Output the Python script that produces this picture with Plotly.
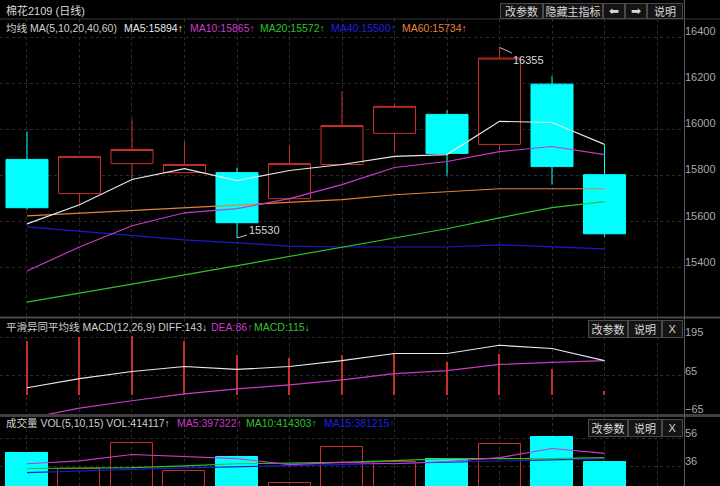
import plotly.graph_objects as go

# ---------------- data ----------------
idx = list(range(12))
opens  = [15870, 15722, 15852, 15813, 15813, 15700, 15848, 15983, 16065, 15935, 16196, 15804]
highs  = [15990, 15883, 16048, 15948, 15835, 15930, 16165, 16113, 16083, 16355, 16230, 15935]
lows   = [15652, 15678, 15783, 15810, 15530, 15690, 15845, 15900, 15800, 15909, 15761, 15535]
closes = [15661, 15883, 15913, 15848, 15596, 15852, 16017, 16100, 15896, 16309, 15839, 15548]

ma5  = [15591, 15674, 15783, 15830, 15778, 15822, 15848, 15883, 15891, 16035, 16030, 15935]
ma10 = [15387, 15491, 15583, 15639, 15657, 15700, 15761, 15835, 15861, 15904, 15926, 15891]
ma20 = [15252, 15290, 15330, 15370, 15410, 15452, 15491, 15530, 15570, 15617, 15661, 15687]
ma40 = [15578, 15560, 15540, 15522, 15509, 15495, 15491, 15491, 15491, 15500, 15491, 15483]
ma60 = [15626, 15638, 15650, 15662, 15675, 15687, 15696, 15717, 15730, 15743, 15743, 15743]

diff = [24, 55, 79, 96, 86, 96, 116, 140, 140, 168, 157, 116]
dea  = [-80, -45, -20, 3, 20, 34, 51, 72, 82, 103, 110, 116]
macd = [182, 197, 200, 182, 134, 126, 134, 143, 111, 137, 86, 12]

vol   = [46, 34, 53, 32.5, 43, 24, 50, 39.6, 41.7, 52.4, 57.4, 39.5]
vma5  = [38, 40, 44.6, 43, 41.7, 37.4, 39, 38, 39.6, 42.4, 48.9, 45.4]
vma10 = [34.6, 35, 35.3, 36.5, 38, 38.5, 39, 40.3, 41.7, 41.7, 41.7, 42.4]
vma15 = [31.7, 33, 34, 35, 36, 36.7, 37.4, 38.2, 39, 40, 41, 41.7]

main_ticks = [15400, 15600, 15800, 16000, 16200, 16400]
macd_ticks = [-65, 65, 195]
vol_ticks = [36, 56]

# ---------------- style ----------------
W, H = 720, 486
RED = "#c8302c"
CYAN = "#00ffff"
TXT = "#c8c8c8"
GRID = "#2c2c2c"
FONT = "Liberation Sans, Noto Sans CJK SC"

def py(p):
    return 1 - p / H

def px(p):
    return p / W

fig = go.Figure()

# main candles
fig.add_trace(go.Candlestick(
    x=idx, open=opens, high=highs, low=lows, close=closes,
    increasing=dict(line=dict(color=RED, width=1), fillcolor="#000000"),
    decreasing=dict(line=dict(color=CYAN, width=1), fillcolor=CYAN),
    whiskerwidth=0, xaxis="x", yaxis="y", showlegend=False))

for vals, col in [(ma60, "#e0853c"), (ma40, "#1a1ad0"), (ma20, "#30c030"),
                  (ma10, "#c83cc8"), (ma5, "#e8e8e8")]:
    fig.add_trace(go.Scatter(x=idx, y=vals, mode="lines",
                             line=dict(color=col, width=1.2),
                             xaxis="x", yaxis="y", showlegend=False))

# MACD
fig.add_trace(go.Bar(x=idx, y=macd, width=0.025, marker=dict(color=RED, line=dict(width=0)),
                     xaxis="x2", yaxis="y2", showlegend=False))
fig.add_trace(go.Scatter(x=idx, y=dea, mode="lines", line=dict(color="#c83cc8", width=1.2),
                         xaxis="x2", yaxis="y2", showlegend=False))
fig.add_trace(go.Scatter(x=idx, y=diff, mode="lines", line=dict(color="#e8e8e8", width=1.2),
                         xaxis="x2", yaxis="y2", showlegend=False))

# volume
up = [c >= o for o, c in zip(opens, closes)]
fig.add_trace(go.Bar(x=[i for i in idx if up[i]], y=[vol[i] for i in idx if up[i]], width=0.8,
                     marker=dict(color="rgba(0,0,0,0)", line=dict(color=RED, width=1)),
                     xaxis="x3", yaxis="y3", showlegend=False))
fig.add_trace(go.Bar(x=[i for i in idx if not up[i]], y=[vol[i] for i in idx if not up[i]], width=0.8,
                     marker=dict(color=CYAN, line=dict(color=CYAN, width=1)),
                     xaxis="x3", yaxis="y3", showlegend=False))
for vals, col in [(vma15, "#1a1ad0"), (vma10, "#30c030"), (vma5, "#c83cc8")]:
    fig.add_trace(go.Scatter(x=idx, y=vals, mode="lines", line=dict(color=col, width=1.2),
                             xaxis="x3", yaxis="y3", showlegend=False))

xr = [-0.514, 12.514]
xcommon = dict(range=xr, domain=[0, 684 / W], showticklabels=False, showgrid=True,
               gridcolor=GRID, griddash="dot", gridwidth=1, tick0=0, dtick=1,
               zeroline=False, showline=False, fixedrange=True)

def ycommon(shift):
    return dict(side="right", showgrid=True, gridcolor=GRID, griddash="dot", gridwidth=1,
                zeroline=False, showline=False, ticks="", tickformat="d",
                tickfont=dict(family=FONT, size=11, color="#a8a8a8"),
                ticklabelshift=shift)

fig.update_layout(
    width=W, height=H, margin=dict(l=0, r=0, t=0, b=0),
    paper_bgcolor="#000000", plot_bgcolor="#000000",
    boxgap=0.2, boxgroupgap=0, bargap=0, barmode="overlay",
    font=dict(family=FONT, color=TXT, size=11),
    xaxis=dict(**xcommon, anchor="y", rangeslider=dict(visible=False)),
    xaxis2=dict(**xcommon, anchor="y2", matches="x"),
    xaxis3=dict(**xcommon, anchor="y3", matches="x"),
    yaxis=dict(**ycommon(-6), anchor="x", domain=[py(316.5), py(19)], range=[15190, 16478],
               tickvals=main_ticks),
    yaxis2=dict(**ycommon(-5), anchor="x2", domain=[py(414.3), py(319)], range=[-66, 257],
                tickvals=macd_ticks),
    yaxis3=dict(**ycommon(-5), anchor="x3", domain=[0, py(417)], range=[22.1, 71.4],
                tickvals=vol_ticks),
)

shapes = []
shapes.append(dict(type="line", xref="paper", yref="paper", x0=0, x1=1, y0=py(19), y1=py(19),
                   line=dict(color="#3a3a3a", width=1)))
shapes.append(dict(type="line", xref="paper", yref="paper", x0=0, x1=1, y0=py(317.5), y1=py(317.5),
                   line=dict(color="#4a4a4a", width=2)))
shapes.append(dict(type="line", xref="paper", yref="paper", x0=0, x1=1, y0=py(415.5), y1=py(415.5),
                   line=dict(color="#404040", width=3)))
shapes.append(dict(type="line", xref="paper", yref="paper", x0=684.5 / W, x1=684.5 / W, y0=0, y1=1,
                   line=dict(color="#5a5a5a", width=1)))
fig.update_layout(shapes=shapes)

ann = []
HS = 10.5

def text(x, y, s, color=TXT, size=HS):
    ann.append(dict(xref="paper", yref="paper", x=px(x), y=py(y), text=s, showarrow=False,
                    xanchor="left", yanchor="middle", font=dict(family=FONT, size=size, color=color)))

def button(x0, x1, y0, y1, s, size=11, family=FONT):
    ann.append(dict(xref="paper", yref="paper", x=px(x0), y=py(y0), text=s, showarrow=False,
                    xanchor="left", yanchor="top", width=x1 - x0 - 2, height=y1 - y0 - 2,
                    bgcolor="#141414", bordercolor="#4a4a4a", borderwidth=1, borderpad=0,
                    align="center", valign="middle",
                    font=dict(family=family, size=size, color="#d8d8d8")))

text(4, 10, "棉花2109 (日线)", "#d8d8d8", 11)
text(4, 28, "均线 MA(5,10,20,40,60)", "#d0d0d0")
text(122, 28, "MA5:15894↑", "#e8e8e8")
text(188, 28, "MA10:15865↑", "#c83cc8")
text(258, 28, "MA20:15572↑", "#30c030")
text(329, 28, "MA40:15500↑", "#2020e0")
text(400, 28, "MA60:15734↑", "#e0853c")

text(4, 327, "平滑异同平均线 MACD(12,26,9) DIFF:143↓", "#d0d0d0")
text(209, 327, "DEA:86↑", "#c83cc8")
text(252, 327, "MACD:115↓", "#30c030")

text(4, 423, "成交量 VOL(5,10,15) VOL:414117↑", "#d0d0d0")
text(175, 423, "MA5:397322↑", "#c83cc8")
text(244, 423, "MA10:414303↑", "#30c030")
text(322, 423, "MA15:381215↑", "#2020e0")

button(500, 543, 3, 19, "改参数")
button(543, 603, 3, 19, "隐藏主指标")
button(603, 625, 3, 19, "⬅", 12, "DejaVu Sans")
button(625, 647, 3, 19, "➡", 12, "DejaVu Sans")
button(647, 683, 3, 19, "说明")

for yt in (320, 419):
    button(588, 628, yt, yt + 18, "改参数")
    button(628, 662, yt, yt + 18, "说明")
    button(662, 683, yt, yt + 18, "X")

# high / low markers
hi_i = max(idx, key=lambda i: highs[i])
lo_i = min(idx, key=lambda i: lows[i])
ann.append(dict(xref="x", yref="y", x=hi_i, y=highs[hi_i], text=str(highs[hi_i]),
                showarrow=True, arrowhead=0, arrowwidth=1, arrowcolor="#c0c0c0", standoff=0,
                ax=29, ay=13, font=dict(family=FONT, size=11, color="#d8d8d8")))
ann.append(dict(xref="x", yref="y", x=lo_i, y=lows[lo_i], text=str(lows[lo_i]),
                showarrow=True, arrowhead=0, arrowwidth=1, arrowcolor="#c0c0c0", standoff=0,
                ax=27, ay=-8, font=dict(family=FONT, size=11, color="#d8d8d8")))

fig.update_layout(annotations=ann)

fig.write_html("out.html")
